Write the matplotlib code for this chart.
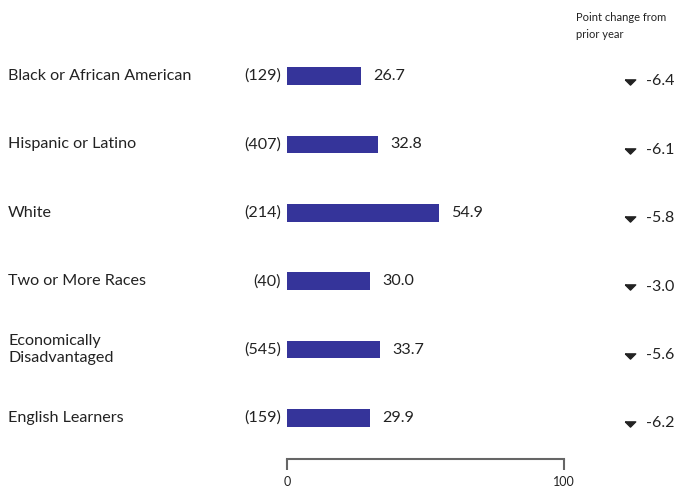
import matplotlib.pyplot as plt
import matplotlib.transforms as mtransforms

categories = ['Black or African American', 'Hispanic or Latino', 'White',
              'Two or More Races', 'Economically\nDisadvantaged', 'English Learners']
counts = [129, 407, 214, 40, 545, 159]
scores = [26.7, 32.8, 54.9, 30.0, 33.7, 29.9]
changes = [-6.4, -6.1, -5.8, -3.0, -5.6, -6.2]

W, H = 682, 487
plt.rcParams['font.family'] = ['Lato', 'DejaVu Sans']
fig = plt.figure(figsize=(W / 100, H / 100), dpi=100)

# axes placed in pixel terms: 0 at x=287, 100 at x=564
top, bot = 41.8, 452.2
ax = fig.add_axes([287 / W, 1 - bot / H, 277 / W, (bot - top) / H])
ypos = list(range(len(categories)))
ax.barh(ypos, scores, height=0.26, color='#35349a')
ax.set_xlim(0, 100)
ax.set_ylim(len(categories) - 0.5, -0.5)

for s in ['top', 'right', 'left']:
    ax.spines[s].set_visible(False)
ax.spines['bottom'].set_position(('outward', 5))
ax.spines['bottom'].set_bounds(0, 100)
ax.spines['bottom'].set_color('#666666')
ax.spines['bottom'].set_linewidth(1.5)
ax.set_xticks([0, 100])
ax.tick_params(axis='x', direction='out', length=8, width=1.5, color='#666666',
               labelsize=9, labelcolor='#222222', pad=4)
ax.set_yticks([])

txt = '#222222'
tr = mtransforms.blended_transform_factory(fig.transFigure, ax.transData)
tri = [(-1, 0.5), (1, 0.5), (0, -0.5), (-1, 0.5)]
for i, (cat, n, v, d) in enumerate(zip(categories, counts, scores, changes)):
    ax.text(8 / W, i, cat, transform=tr, ha='left', va='center', fontsize=11.6,
            linespacing=1.3, color=txt)
    ax.text(281 / W, i, f'({n})', transform=tr, ha='right', va='center',
            fontsize=11.6, color=txt)
    ax.text(v + 4.5, i, f'{v:.1f}', ha='left', va='center', fontsize=11.6, color=txt)
    ax.plot([630 / W], [i + 0.09], marker=tri, markersize=7.5, color=txt,
            transform=tr, clip_on=False)
    ax.text(646 / W, i + 0.08, f'{d:.1f}', transform=tr, ha='left', va='center',
            fontsize=11.5, color=txt)

fig.text(576 / W, 1 - 12 / H, 'Point change from\nprior year', ha='left', va='top',
         fontsize=8, linespacing=1.7, color=txt)

fig.savefig('out.png', dpi=100)
